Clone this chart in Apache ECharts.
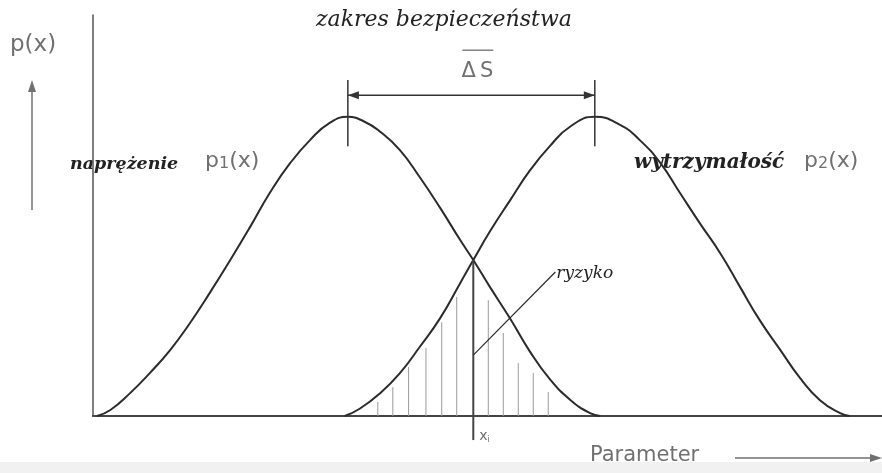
<!DOCTYPE html>
<html>
<head>
<meta charset="utf-8">
<script src="https://cdn.jsdelivr.net/npm/echarts@6/dist/echarts.min.js"></script>
<style>html,body{margin:0;padding:0;background:#fff}#c{width:882px;height:473px}</style>
</head>
<body>
<div id="c"></div>
<script>
// Curve 1: naprężenie p1(x)  [parameter, density]
const stressX = [0.5, 2.2, 4.7, 7.2, 9.8, 12.3, 14.8, 17.4, 19.9, 22.4, 25.0, 27.5, 30.0, 32.3, 34.3, 36.4, 38.9, 41.4, 44.0, 46.5, 48.2, 50.3, 52.9, 55.4, 57.9, 60.5, 63.0, 64.3];
const stressY = [0.0, 1.5, 5.7, 10.7, 16.5, 23.2, 30.7, 38.9, 47.1, 55.6, 63.1, 68.8, 73.1, 74.6, 73.5, 70.9, 66.3, 59.6, 51.9, 44.0, 38.9, 32.2, 24.2, 16.0, 9.2, 4.0, 0.7, 0.0];
// Curve 2: wytrzymałość p2(x)
const strengthX = [31.9, 33.8, 36.4, 38.9, 41.4, 44.0, 46.5, 48.2, 50.3, 52.9, 55.4, 57.9, 60.5, 63.6, 66.8, 69.3, 71.9, 74.4, 76.9, 79.5, 82.0, 84.5, 87.1, 89.6, 92.1, 94.7, 95.9];
const strengthY = [0.0, 1.8, 5.7, 10.7, 17.2, 24.4, 33.0, 38.9, 46.0, 53.9, 61.3, 67.3, 72.2, 74.6, 72.6, 68.8, 63.1, 55.6, 48.1, 40.6, 32.2, 23.9, 16.5, 9.5, 4.0, 0.7, 0.0];
// Hatching of the risk (overlap) region
const hatchX = [36.1, 38.0, 40.0, 42.2, 44.2, 46.1, 50.1, 52.0, 53.9, 55.8, 57.7];
const hatchY = [3.5, 7.2, 12.2, 17.0, 23.4, 29.7, 28.9, 20.7, 13.2, 10.7, 6.0];
// Intersection point x_i
const crossX = 48.2, crossY = 38.9, crossBelow = -6.0;
// Peaks (mean values) and safety margin ΔS
const peak1X = 32.3, peak2X = 63.6, dimY = 80.0, dimTop = 83.8, dimBottom = 67.3;
// "ryzyko" leader line
const riskFrom = [48.2, 15.2], riskTo = [58.6, 35.9];

const ink = '#2b2b2b', gray = '#707070';
const serif = '"DejaVu Serif","Liberation Serif",serif';
const sans = '"DejaVu Sans","Liberation Sans",sans-serif';

const chart = echarts.init(document.getElementById('c'), null, {renderer: 'canvas'});
const zip = (a, b) => a.map((v, i) => [v, b[i]]);
const lineSeries = (name, d) => ({type: 'line', name, data: d, smooth: 0.5,
  showSymbol: false, lineStyle: {color: ink, width: 2}, z: 5});

chart.setOption({
  animation: false,
  backgroundColor: '#fff',
  grid: {left: 93, right: 0, top: 15, bottom: 57},
  xAxis: {type: 'value', min: 0, max: 100,
    axisLine: {show: true, onZero: false, lineStyle: {color: '#444', width: 2}},
    axisTick: {show: false}, axisLabel: {show: false}, splitLine: {show: false}},
  yAxis: {type: 'value', min: 0, max: 100,
    axisLine: {show: true, lineStyle: {color: '#555', width: 1.5}},
    axisTick: {show: false}, axisLabel: {show: false}, splitLine: {show: false}},
  series: [
    lineSeries('p1', zip(stressX, stressY)),
    lineSeries('p2', zip(strengthX, strengthY)),
    {type: 'custom', name: 'hatch', data: zip(hatchX, hatchY),
     renderItem: (params, api) => {
       const a = api.coord([api.value(0), 0]);
       const b = api.coord([api.value(0), api.value(1)]);
       return {type: 'line', shape: {x1: a[0], y1: a[1], x2: b[0], y2: b[1]},
               style: {stroke: '#9a9a9a', lineWidth: 1}};
     }, z: 2},
    {type: 'custom', name: 'xi', data: [[crossX, crossY]], clip: false,
     renderItem: (params, api) => {
       const a = api.coord([crossX, crossY]);
       const b = api.coord([crossX, crossBelow]);
       return {type: 'group', children: [
         {type: 'line', shape: {x1: a[0], y1: a[1], x2: b[0], y2: b[1]}, style: {stroke: '#444', lineWidth: 2}},
         {type: 'text', x: b[0] + 6, y: b[1] - 4, style: {
           text: '{x|x}{s|i}', rich: {x: {fontFamily: sans, fontSize: 14, fill: gray},
                                    s: {fontFamily: sans, fontSize: 8, fill: gray, padding: [8, 0, 0, 0]}},
           verticalAlign: 'middle'}}
       ]};
     }, z: 6},
    {type: 'custom', name: 'ryzyko', data: [riskFrom], clip: false,
     renderItem: (params, api) => {
       const a = api.coord(riskFrom), b = api.coord(riskTo);
       return {type: 'group', children: [
         {type: 'line', shape: {x1: a[0], y1: a[1], x2: b[0], y2: b[1]}, style: {stroke: ink, lineWidth: 1.2}},
         {type: 'text', x: b[0] + 1, y: b[1] + 2, style: {text: 'ryzyko', fontFamily: serif,
           fontStyle: 'italic', fontSize: 17, fill: '#222', verticalAlign: 'middle'}}
       ]};
     }, z: 6},
    {type: 'custom', name: 'deltaS', data: [[peak1X, dimY]], clip: false,
     renderItem: (params, api) => {
       const l = api.coord([peak1X, dimY]), r = api.coord([peak2X, dimY]);
       const lt = api.coord([peak1X, dimTop]), lb = api.coord([peak1X, dimBottom]);
       const rt = api.coord([peak2X, dimTop]), rb = api.coord([peak2X, dimBottom]);
       const y = l[1], cx = (l[0] + r[0]) / 2 + 6;
       return {type: 'group', children: [
         {type: 'line', shape: {x1: l[0], y1: y, x2: r[0], y2: y}, style: {stroke: '#333', lineWidth: 1.5}},
         {type: 'line', shape: {x1: lt[0], y1: lt[1], x2: lb[0], y2: lb[1]}, style: {stroke: '#333', lineWidth: 1.5}},
         {type: 'line', shape: {x1: rt[0], y1: rt[1], x2: rb[0], y2: rb[1]}, style: {stroke: '#333', lineWidth: 1.5}},
         {type: 'polygon', shape: {points: [[l[0], y], [l[0] + 11, y - 4], [l[0] + 11, y + 4]]}, style: {fill: '#333'}},
         {type: 'polygon', shape: {points: [[r[0], y], [r[0] - 11, y - 4], [r[0] - 11, y + 4]]}, style: {fill: '#333'}},
         {type: 'text', x: cx, y: y - 24, style: {text: 'Δ\u2009S', fontFamily: sans,
           fontSize: 21, fill: gray, align: 'center', verticalAlign: 'middle'}},
         {type: 'line', shape: {x1: cx - 15, y1: y - 45, x2: cx + 16, y2: y - 45},
          style: {stroke: gray, lineWidth: 1.3}}
       ]};
     }, z: 6}
  ],
  graphic: [
    {type: 'rect', left: 0, top: 462, shape: {width: 882, height: 11}, style: {fill: '#f1f1f1'}, z: -1, silent: true},
    {type: 'text', left: 10, top: 34, style: {text: 'p(x)', fontFamily: sans, fontSize: 23, fill: gray}},
    {type: 'line', shape: {x1: 32, y1: 210, x2: 32, y2: 86}, style: {stroke: gray, lineWidth: 1.5}},
    {type: 'polygon', shape: {points: [[32, 80], [28, 92], [36, 92]]}, style: {fill: gray}},
    {type: 'text', left: 316, top: 9, style: {text: 'zakres bezpieczeństwa', fontFamily: serif,
      fontStyle: 'italic', fontSize: 22, fill: '#222'}},
    {type: 'text', left: 70, top: 155, style: {text: 'naprężenie', fontFamily: serif,
      fontStyle: 'italic', fontWeight: 'bold', fontSize: 17.5, fill: '#222'}},
    {type: 'text', left: 634, top: 153, style: {text: 'wytrzymałość', fontFamily: serif,
      fontStyle: 'italic', fontWeight: 'bold', fontSize: 20, fill: '#222'}},
    {type: 'text', left: 205, top: 150, style: {
      text: '{p|p}{s|1}{p|(x)}',
      rich: {p: {fontFamily: sans, fontSize: 22, fill: gray},
             s: {fontFamily: sans, fontSize: 16, fill: gray, padding: [6, 0, 0, 0]}}}},
    {type: 'text', left: 804, top: 150, style: {
      text: '{p|p}{s|2}{p|(x)}',
      rich: {p: {fontFamily: sans, fontSize: 22, fill: gray},
             s: {fontFamily: sans, fontSize: 16, fill: gray, padding: [6, 0, 0, 0]}}}},
    {type: 'text', left: 590, top: 445, style: {text: 'Parameter', fontFamily: sans, fontSize: 21, fill: gray}},
    {type: 'line', shape: {x1: 735, y1: 458, x2: 872, y2: 458}, style: {stroke: gray, lineWidth: 1.3}},
    {type: 'polygon', shape: {points: [[882, 458], [870, 454], [870, 462]]}, style: {fill: gray}}
  ]
});
</script>
</body>
</html>
